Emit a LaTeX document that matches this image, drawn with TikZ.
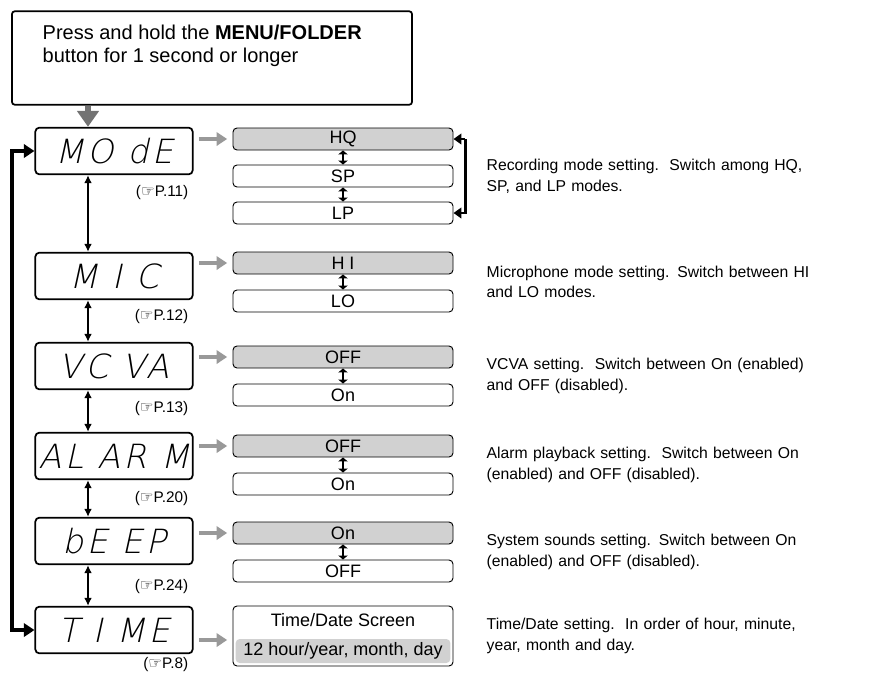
\documentclass[tikz,border=0pt]{standalone}
\usepackage{fontspec}
\setmainfont{Liberation Sans}
\newfontfamily\symf{DejaVu Sans}
\newfontfamily\lcdf[FakeSlant=0.22]{DejaVu Sans ExtraLight}
\usetikzlibrary{arrows.meta}
\begin{document}
\begin{tikzpicture}[x=0.75pt,y=-0.75pt,
  lcd/.style={draw,line width=1.3pt,rounded corners=3pt,minimum width=118pt,minimum height=35pt,inner sep=0pt,font=\lcdf\fontsize{25}{25}\selectfont\addfontfeatures{LetterSpace=10}},
  opt/.style={draw,line width=0.7pt,rounded corners=3pt,minimum width=165pt,minimum height=16.5pt,inner sep=0pt,font=\fontsize{13.5}{13.5}\selectfont},
  sel/.style={opt,fill=black!18},
  ref/.style={font=\fontsize{11.5}{11.5}\selectfont,anchor=east},
  desc/.style={anchor=west,align=left,font=\fontsize{11.8}{15.5}\selectfont,text width=320pt},
  garr/.style={-{Triangle[length=8pt,width=10pt]},line width=3.5pt,black!40},
  dbl/.style={{Latex[length=6pt,width=6pt]}-{Latex[length=6pt,width=6pt]},line width=1.8pt},
  sdbl/.style={{Triangle[length=3pt,width=7pt]}-{Triangle[length=3pt,width=7pt]},line width=2pt},
  blk/.style={-{Triangle[length=8pt,width=10pt]},line width=2.4pt,line join=miter}]
\useasboundingbox (0,0) rectangle (884,682);
\node[draw,line width=1.3pt,rounded corners=2pt,minimum width=300pt,minimum height=70pt] (top) at (212,58) {};
\node[anchor=north west,align=left,font=\fontsize{15}{17.5}\selectfont] at (38,20) {Press and hold the \textbf{MENU/FOLDER}\\ button for 1 second or longer};
\node[lcd] (m1) at (114,151) {MO dE};
\node[lcd] (m2) at (114,276) {M I C};
\node[lcd] (m3) at (114,366) {VC VA};
\node[lcd] (m4) at (114,456) {AL AR M};
\node[lcd] (m5) at (114,541) {bE EP};
\node[lcd] (m6) at (114,630) {T I ME};
\coordinate (ax) at (88,0);
\draw[-{Triangle[length=12pt,width=16pt]},line width=5pt,black!55] (top.south -| ax) -- (m1.north -| ax);
\node[ref] at (193,193) {(\symf☞\rmfamily P.11)};
\node[ref] at (193,317) {(\symf☞\rmfamily P.12)};
\node[ref] at (193,409) {(\symf☞\rmfamily P.13)};
\node[ref] at (193,499) {(\symf☞\rmfamily P.20)};
\node[ref] at (193,587) {(\symf☞\rmfamily P.24)};
\node[ref] at (193,665) {(\symf☞\rmfamily P.8)};
\foreach \a/\b in {m1/m2,m2/m3,m3/m4,m4/m5,m5/m6} \draw[dbl] (\a.south -| ax) -- (\b.north -| ax);
\coordinate (lx) at (12,400);
\draw[blk] (lx) |- (m1.west);
\draw[blk] (lx) |- (m6.west);
% options
\node[sel] (hq) at (343,139) {HQ};
\node[opt] (sp) at (343,176) {SP};
\node[opt] (lp) at (343,213) {LP};
\node[sel] (hi) at (343,263) {H I};
\node[opt] (lo) at (343,301) {LO};
\node[sel] (v1) at (343,357) {OFF};
\node[opt] (v2) at (343,395) {On};
\node[sel] (a1) at (343,446) {OFF};
\node[opt] (a2) at (343,484) {On};
\node[sel] (b1) at (343,533) {On};
\node[opt] (b2) at (343,571) {OFF};
\node[draw,line width=0.7pt,rounded corners=3pt,minimum width=165pt,minimum height=45pt] (t1) at (343,636) {};
\node[font=\fontsize{13.5}{13.5}\selectfont] (t1a) at (343,620) {Time/Date Screen};
\node[fill=black!18,rounded corners=3pt,minimum width=161pt,minimum height=18pt,inner sep=0pt,font=\fontsize{13.5}{13.5}\selectfont] (t1b) at (343,651) {12 hour/year, month, day};
\foreach \a/\b in {hq/sp,sp/lp,hi/lo,v1/v2,a1/a2,b1/b2} \draw[sdbl] (\a.south) -- (\b.north);
\foreach \b in {hq,hi,v1,a1,b1} \draw[garr] ([xshift=4pt]m1.east |- \b) -- ([xshift=-4pt]\b.west);
\draw[garr] ([xshift=4pt,yshift=-3pt]m6.east |- t1.west) -- ([xshift=-4pt,yshift=-3pt]t1.west);
\draw[-{Triangle[length=6pt,width=8pt]},line width=2.2pt] (hq.east) ++(12,0) coordinate (br) -- (hq.east);
\draw[-{Triangle[length=6pt,width=8pt]},line width=2.2pt] (br) -- (br |- lp.east) -- (lp.east);
% descriptions
\node[desc] at (482,176) {Recording mode setting.\ \ Switch among HQ,\\SP, and LP modes.};
\node[desc] at (482,282) {Microphone mode setting. Switch between HI\\and LO modes.};
\node[desc] at (482,376) {VCVA setting.\ \ Switch between On (enabled)\\and OFF (disabled).};
\node[desc] at (482,465) {Alarm playback setting.\ \ Switch between On\\(enabled) and OFF (disabled).};
\node[desc] at (482,552) {System sounds setting. Switch between On\\(enabled) and OFF (disabled).};
\node[desc] at (482,636) {Time/Date setting.\ \ In order of hour, minute,\\year, month and day.};
\end{tikzpicture}
\end{document}
